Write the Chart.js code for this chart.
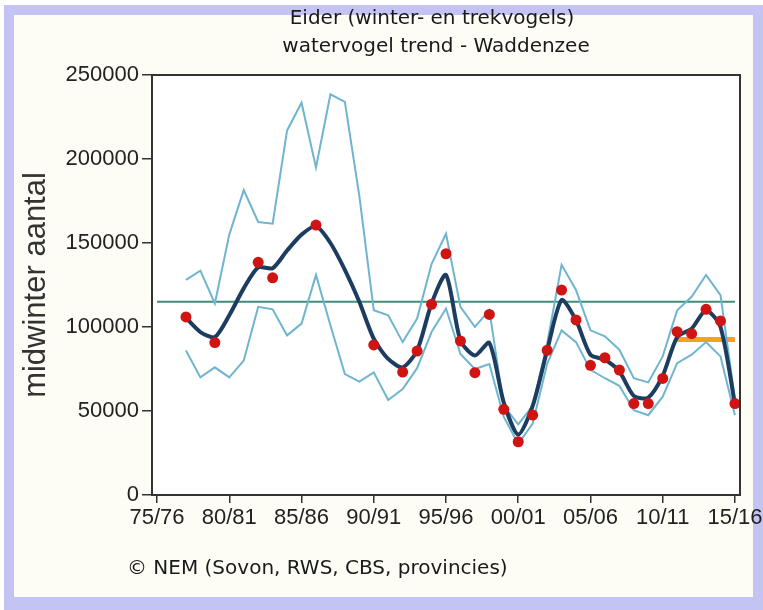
<!DOCTYPE html>
<html>
<head>
<meta charset="utf-8">
<title>Eider - watervogel trend Waddenzee</title>
<script src="https://cdn.jsdelivr.net/npm/chart.js@4.4.1/dist/chart.umd.min.js"></script>
<style>
  body { margin: 0; background: #fff; }
  #frame {
    position: absolute; left: 4px; top: 5px; width: 761px; height: 605px;
    box-sizing: border-box; background: #fdfdf6;
    border: 10px solid #c4c4f4; border-right-width: 12px; border-bottom-width: 13px;
  }
  #wrap { position: absolute; left: 0; top: 0; width: 763px; height: 610px; }
</style>
</head>
<body>
<div id="frame"></div>
<div id="wrap"><canvas id="eider-chart" width="763" height="610"></canvas></div>
<script>
// winters, 1977 = season 77/78
var years = [1977, 1978, 1979, 1980, 1981, 1982, 1983, 1984, 1985, 1986,
             1987, 1988, 1989, 1990, 1991, 1992, 1993, 1994, 1995, 1996,
             1997, 1998, 1999, 2000, 2001, 2002, 2003, 2004, 2005, 2006,
             2007, 2008, 2009, 2010, 2011, 2012, 2013, 2014, 2015];

// trend line (index)
var trend = [105500, 97000, 94000, 107000, 123000, 135500, 135000, 145500, 155000, 160000,
             150000, 134000, 115000, 93000, 81000, 76000, 86000, 114000, 131000, 92000,
             83000, 90500, 55000, 36000, 53000, 86000, 116000, 104000, 83500, 80500,
             73500, 59000, 58000, 71000, 94000, 99000, 110000, 100000, 54000];

// confidence band
var upper = [128000, 133500, 114000, 155000, 181500, 162500, 161500, 217000, 233500, 195000,
             238500, 234000, 178000, 110000, 107000, 91000, 105000, 137500, 155500, 112000,
             100000, 110000, 53000, 42000, 53000, 90000, 137000, 122000, 98000, 94500,
             86500, 69500, 67000, 82500, 110000, 118000, 131000, 119000, 57000];
var lower = [86000, 70000, 76000, 70000, 80000, 112000, 110500, 95000, 102000, 131000,
             101000, 72000, 67500, 73000, 56500, 63000, 75500, 97000, 111000, 84000,
             75000, 78000, 46500, 30500, 42500, 78000, 98000, 91000, 74500, 69500,
             65000, 50500, 47500, 58500, 78500, 83500, 91000, 82500, 47500];

// counted totals (red dots)
var countYears = [1977, 1979, 1982, 1983, 1986, 1990, 1992, 1993, 1994, 1995,
                  1996, 1997, 1998, 1999, 2000, 2001, 2002, 2003, 2004, 2005,
                  2006, 2007, 2008, 2009, 2010, 2011, 2012, 2013, 2014, 2015];
var counts = [106000, 90700, 138500, 129300, 160700, 89300, 73200, 85700, 113500, 143600,
              91700, 72800, 107500, 51000, 31700, 47600, 86100, 122000, 104200, 77200,
              81700, 74400, 54400, 54400, 69400, 97200, 96000, 110500, 103600, 54400];

// reference levels
var refYears = [1975, 2015];
var refLevel = [115000, 115000];
var targetYears = [2011, 2015];
var targetLevel = [92500, 92500];

// axes
var xTickYears = [1975, 1980, 1985, 1990, 1995, 2000, 2005, 2010, 2015];
var xTickLabels = ['75/76', '80/81', '85/86', '90/91', '95/96', '00/01', '05/06', '10/11', '15/16'];
var yTicks = [0, 50000, 100000, 150000, 200000, 250000];

var titleLines = ['Eider (winter- en trekvogels)', 'watervogel trend - Waddenzee'];
var footerText = '\u00A9 NEM (Sovon, RWS, CBS, provincies)';

function pairs(xs, ys) {
    return xs.map(function(x, i) { return { x: x, y: ys[i] }; });
}

// white plot area + box around it
var plotFrame = {
    id: 'plotFrame',
    beforeDraw: function(chart) {
        var a = chart.chartArea, ctx = chart.ctx;
        ctx.save();
        ctx.fillStyle = '#ffffff';
        ctx.fillRect(a.left, a.top, a.right - a.left, a.bottom - a.top);
        ctx.restore();
    },
    afterDraw: function(chart) {
        var a = chart.chartArea, ctx = chart.ctx;
        ctx.save();
        ctx.strokeStyle = '#333333';
        ctx.lineWidth = 2;
        ctx.strokeRect(a.left, a.top, a.right - a.left, a.bottom - a.top);
        ctx.restore();
    }
};

// title and source line
var chartTexts = {
    id: 'chartTexts',
    afterDraw: function(chart) {
        var ctx = chart.ctx;
        ctx.save();
        ctx.fillStyle = '#1a1a1a';
        ctx.font = '20px "DejaVu Sans"';
        ctx.textBaseline = 'middle';
        ctx.textAlign = 'center';
        ctx.fillText(titleLines[0], 432, 19);
        ctx.fillText(titleLines[1], 436, 47);
        ctx.textAlign = 'left';
        ctx.fillText(footerText, 127, 569);
        ctx.restore();
    }
};

var tickFont = { family: '"Liberation Sans", Arial, sans-serif', size: 22 };

new Chart(document.getElementById('eider-chart'), {
    type: 'line',
    data: {
        datasets: [{
            label: 'tellingen',
            type: 'scatter',
            data: pairs(countYears, counts),
            backgroundColor: '#d01414',
            borderWidth: 0,
            pointRadius: 5.5,
            order: 0
        }, {
            label: 'trend',
            data: pairs(years, trend),
            borderColor: '#1d3d60',
            borderWidth: 4,
            pointRadius: 0,
            tension: 0.25,
            order: 1
        }, {
            label: 'bovengrens',
            data: pairs(years, upper),
            borderColor: '#6fb5d0',
            borderWidth: 2,
            pointRadius: 0,
            order: 2
        }, {
            label: 'ondergrens',
            data: pairs(years, lower),
            borderColor: '#6fb5d0',
            borderWidth: 2,
            pointRadius: 0,
            order: 2
        }, {
            label: 'referentie',
            data: pairs(refYears, refLevel),
            borderColor: '#3f8c78',
            borderWidth: 2,
            pointRadius: 0,
            order: 3
        }, {
            label: 'doel',
            data: pairs(targetYears, targetLevel),
            borderColor: '#f2a31b',
            borderWidth: 5,
            pointRadius: 0,
            order: 4
        }]
    },
    options: {
        responsive: false,
        animation: false,
        layout: { padding: { left: 0, right: 23, top: 75, bottom: 0 } },
        plugins: {
            legend: { display: false },
            tooltip: { enabled: false },
            title: { display: false }
        },
        scales: {
            x: {
                type: 'linear',
                min: 1974.65,
                max: 2015.35,
                afterBuildTicks: function(scale) {
                    scale.ticks = xTickYears.map(function(v) { return { value: v }; });
                },
                afterFit: function(scale) {
                    scale.height = 115;
                    scale.paddingLeft = 0;
                    scale.paddingRight = 0;
                },
                ticks: {
                    autoSkip: false,
                    maxRotation: 0,
                    padding: 2,
                    color: '#222',
                    font: tickFont,
                    callback: function(value) {
                        var i = xTickYears.indexOf(value);
                        return i >= 0 ? xTickLabels[i] : '';
                    }
                },
                grid: {
                    drawOnChartArea: false,
                    drawTicks: true,
                    tickLength: 8,
                    color: '#333',
                    lineWidth: 1.5
                },
                border: { display: false }
            },
            y: {
                min: 0,
                max: 250000,
                afterBuildTicks: function(scale) {
                    scale.ticks = yTicks.map(function(v) { return { value: v }; });
                },
                afterFit: function(scale) {
                    scale.width = 152;
                    scale.paddingTop = 0;
                    scale.paddingBottom = 0;
                },
                ticks: {
                    padding: 3,
                    color: '#222',
                    font: tickFont,
                    callback: function(value) { return String(value); }
                },
                grid: {
                    drawOnChartArea: false,
                    drawTicks: true,
                    tickLength: 10,
                    color: '#333',
                    lineWidth: 1.5
                },
                border: { display: false },
                title: {
                    display: true,
                    text: 'midwinter aantal',
                    color: '#333',
                    font: { family: '"Liberation Sans", Arial, sans-serif', size: 31 },
                    padding: { top: 18, bottom: 0 }
                }
            }
        }
    },
    plugins: [plotFrame, chartTexts]
});
</script>
</body>
</html>
